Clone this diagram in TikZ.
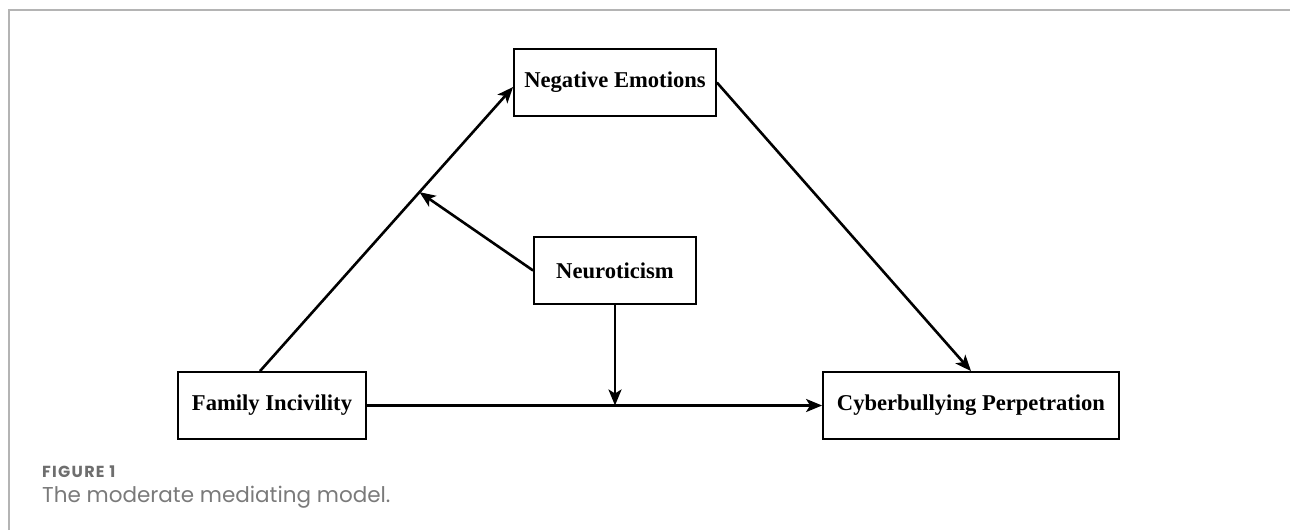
\documentclass[tikz,border=0pt]{standalone}
\usepackage{fontspec}
\setmainfont{Liberation Serif}
\newfontfamily\capfont{Poppins}
\usetikzlibrary{arrows.meta,calc}
\definecolor{framegray}{HTML}{B4B4B4}
\definecolor{capgray}{HTML}{6E6E6E}
\definecolor{textgray}{HTML}{7A7A7A}
\begin{document}
\begin{tikzpicture}[x=1pt,y=-1pt,
  box/.style={draw, line width=1.8pt, minimum height=67pt, inner sep=0pt,
    font=\fontsize{22.6}{26}\selectfont\bfseries},
  conn/.style={line width=2.6pt, -{Stealth[length=16pt,width=13pt,inset=4pt]}},
  frameline/.style={draw=framegray, line width=1.3pt}]
\useasboundingbox (0,0) rectangle (1290,530);
\draw[frameline] (9,530) -- (9,10) -- (1290,10);

\node[box, minimum width=202pt] (NE) at (615,82.5) {Negative Emotions};
\node[box, minimum width=162pt] (N) at (615,270.5) {Neuroticism};
\node[box, minimum width=188pt] (FI) at (272,405.5) {Family Incivility};
\node[box, minimum width=296pt] (CP) at (971,405.5) {Cyberbullying Perpetration};

\coordinate (s1) at ($(FI.north)+(-12,0)$);
\coordinate (e1) at ($(NE.west)+(0,4.5)$);
\coordinate (m1) at ($(s1)!0.63!(e1)$);
\coordinate (m2) at (N.south |- FI.east);

\draw[conn] (s1) -- (e1);
\draw[conn] (NE.east) -- (CP.north);
\draw[conn] (FI.east) -- (CP.west);
\draw[conn] (N.west) -- (m1);
\draw[conn] (N.south) -- (m2);

\node[anchor=base west, inner sep=0pt, text=capgray,
  font=\capfont\fontsize{16}{19}\selectfont\bfseries\addfontfeature{LetterSpace=8}] (cap1) at (42,477) {FIGURE 1};
\node[anchor=base west, inner sep=0pt, text=textgray,
  font=\capfont\fontsize{21.5}{25}\selectfont] (cap2) at (42,502) {The moderate mediating model.};
\end{tikzpicture}
\end{document}
